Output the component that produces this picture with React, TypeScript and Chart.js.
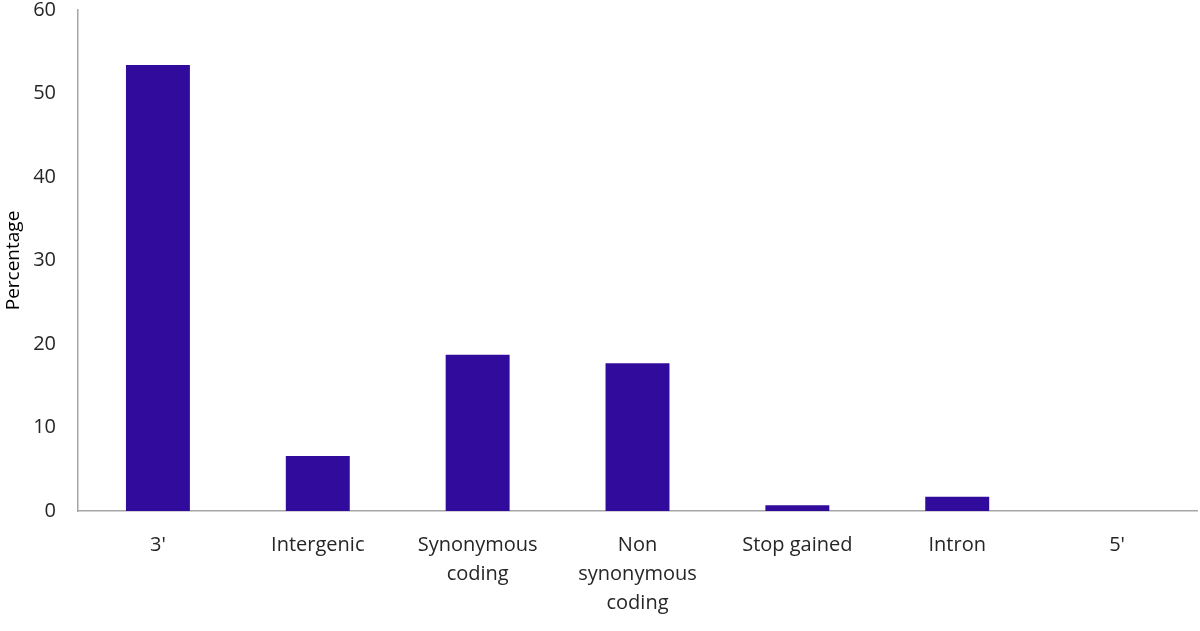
import React, { useEffect, useRef } from "react";
import { Chart, registerables } from "chart.js";

Chart.register(...registerables);

const categories: (string | string[])[] = [
  "3'",
  "Intergenic",
  ["Synonymous", "coding"],
  ["Non", "synonymous", "coding"],
  "Stop gained",
  "Intron",
  "5'",
];
const percentages: number[] = [53.4, 6.6, 18.7, 17.7, 0.7, 1.7, 0];
const yTicks: number[] = [0, 10, 20, 30, 40, 50, 60];

const FONT = "'Open Sans', 'Liberation Sans', sans-serif";

export default function App() {
  const ref = useRef<HTMLCanvasElement | null>(null);

  useEffect(() => {
    document.body.style.margin = "0";
    if (!ref.current) return;
    const chart = new Chart(ref.current, {
      type: "bar",
      data: {
        labels: categories,
        datasets: [
          {
            label: "Percentage",
            data: percentages,
            backgroundColor: "#310c9c",
            borderWidth: 0,
            barPercentage: 0.4,
            categoryPercentage: 1,
          },
        ],
      },
      options: {
        animation: false,
        responsive: false,
        maintainAspectRatio: false,
        layout: { padding: { top: 10, right: 3, left: 0, bottom: 0 } },
        plugins: {
          legend: { display: false },
          tooltip: { enabled: false },
        },
        scales: {
          x: {
            grid: { display: false, drawTicks: false },
            border: { display: true, color: "#a6a6a6", width: 1.5 },
            ticks: {
              color: "#262626",
              font: { family: FONT, size: 20, lineHeight: 1.45 },
              padding: 20,
              maxRotation: 0,
              autoSkip: false,
            },
            afterFit: (s: any) => {
              s.height = 120;
              s.paddingLeft = 0;
              s.paddingRight = 0;
            },
          },
          y: {
            min: 0,
            max: 60,
            afterBuildTicks: (s: any) => {
              s.ticks = yTicks.map((v) => ({ value: v }));
            },
            grid: { display: false, drawTicks: false },
            border: { display: true, color: "#a6a6a6", width: 1.5 },
            ticks: {
              color: "#262626",
              font: { family: FONT, size: 20 },
              padding: 22,
            },
            title: {
              display: true,
              text: "Percentage",
              color: "#000000",
              font: { family: FONT, size: 19 },
              padding: { top: 2, bottom: 0 },
            },
            afterFit: (s: any) => {
              s.width = 78;
              s.paddingTop = 0;
              s.paddingBottom = 0;
            },
          },
        },
      },
    });
    return () => chart.destroy();
  }, []);

  return (
    <div style={{ position: "fixed", left: 0, top: 0, width: 1200, height: 631, background: "#fff" }}>
      <canvas ref={ref} width={1200} height={631} />
    </div>
  );
}
